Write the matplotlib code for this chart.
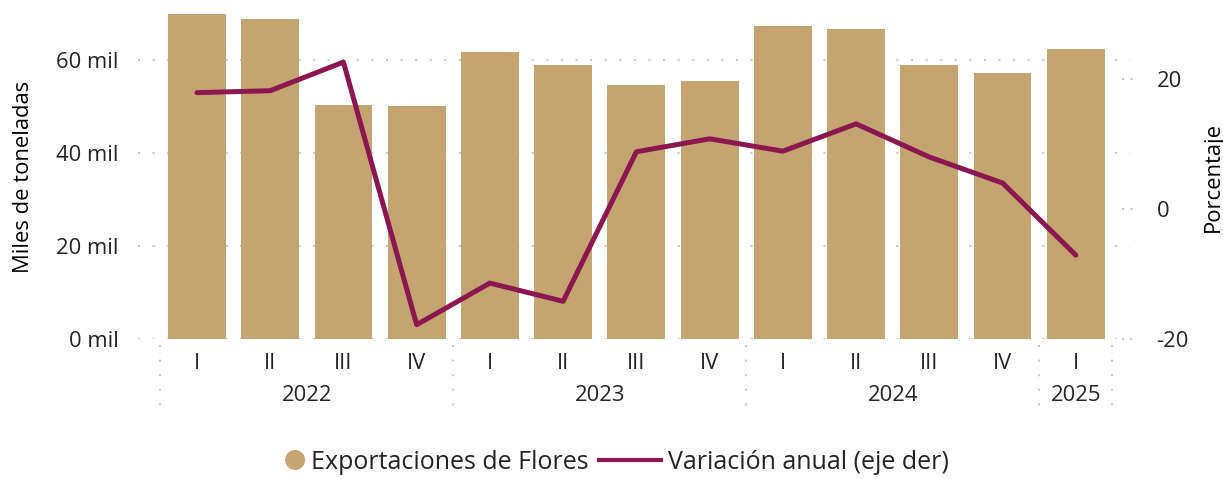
"""Exportaciones de flores por trimestre (barras) y variación anual (línea, eje der)."""

import matplotlib

matplotlib.use("Agg")
import matplotlib.pyplot as plt
from matplotlib.legend_handler import HandlerBase
from matplotlib.lines import Line2D
from matplotlib.patches import Circle
from matplotlib.transforms import blended_transform_factory

quarters = ["I", "II", "III", "IV", "I", "II", "III", "IV",
            "I", "II", "III", "IV", "I"]
years = ["2022", "2023", "2024", "2025"]
quarters_per_year = [4, 4, 4, 1]

# miles de toneladas
exports = [69.9, 69.0, 50.5, 50.1, 61.9, 59.1, 54.8, 55.5,
           67.4, 66.7, 59.1, 57.4, 62.4]
# variación anual, %
yoy_change = [17.9, 18.2, 22.6, -17.8, -11.4, -14.2, 8.8, 10.8,
              8.9, 13.1, 8.0, 4.0, -7.1]

BAR_COLOR = "#C4A572"
LINE_COLOR = "#8C1650"
GRID_COLOR = "#C8C8C8"
TEXT_COLOR = "#252423"

plt.rcParams["font.family"] = ["Open Sans", "DejaVu Sans"]
plt.rcParams["font.size"] = 15.8
plt.rcParams["text.color"] = TEXT_COLOR
plt.rcParams["axes.unicode_minus"] = False


class CircleHandler(HandlerBase):
    """Legend dot sitting right next to its label."""

    def create_artists(self, legend, orig_handle, xdescent, ydescent,
                       width, height, fontsize, trans):
        r = 7.2
        c = Circle((width - r, height / 2 - ydescent), r,
                   facecolor=orig_handle.get_markerfacecolor(),
                   edgecolor="none", transform=trans)
        return [c]


def main() -> None:
    fig = plt.figure(figsize=(12.23, 4.79), dpi=100)
    ax = fig.add_axes([138 / 1223, 1 - 339 / 479, (1130 - 138) / 1223, 325 / 479])
    ax2 = ax.twinx()

    xs = list(range(len(exports)))
    ax.bar(xs, exports, width=0.79, color=BAR_COLOR, zorder=2)
    ax2.plot(xs, yoy_change, color=LINE_COLOR, linewidth=3.6,
             solid_capstyle="round", solid_joinstyle="round", zorder=3)

    ax.set_xlim(-0.805, 12.74)
    ax.set_ylim(0, 70)
    ax2.set_ylim(-20, 30)

    ax.set_yticks([0, 20, 40, 60])
    ax.set_yticklabels([f"{v} mil" for v in [0, 20, 40, 60]])
    ax2.set_yticks([-20, 0, 20])
    for v in [0, 20, 40, 60]:
        ax.axhline(v, color=GRID_COLOR, linewidth=1.5,
                   linestyle=(0, (1, 6)), zorder=1)

    # small dotted ticks on the right axis
    tr2 = blended_transform_factory(ax2.transAxes, ax2.transData)
    for v in [-20, 0, 20]:
        ax2.plot([0.992, 1.006], [v, v], transform=tr2, color=GRID_COLOR,
                 linewidth=1.5, linestyle=(0, (1, 3)), clip_on=False, zorder=1)

    ax.set_xticks(xs)
    ax.set_xticklabels(quarters)
    ax.tick_params(axis="x", length=0, pad=10, labelcolor=TEXT_COLOR)
    ax.tick_params(axis="y", length=0, pad=14, labelcolor=TEXT_COLOR)
    ax2.tick_params(axis="y", length=0, pad=19, labelcolor=TEXT_COLOR)

    ax.set_ylabel("Miles de toneladas", va="center", ha="center")
    ax.yaxis.set_label_coords(-0.115, 0.5)
    ax2.set_ylabel("Porcentaje", rotation=90, va="center", ha="center")
    ax2.yaxis.set_label_coords(1.0837, 0.5)

    for a in (ax, ax2):
        for spine in a.spines.values():
            spine.set_visible(False)

    # year grouping under the quarter labels
    trx = blended_transform_factory(ax.transData, ax.transAxes)
    start = 0
    bounds = [start - 0.5]
    for year, n in zip(years, quarters_per_year):
        mid = start + (n - 1) / 2
        ax.text(mid, -0.175, year, transform=trx, ha="center", va="center")
        start += n
        bounds.append(start - 0.5)
    for b in bounds:
        ax.plot([b, b], [-0.018, -0.237], transform=trx, color=GRID_COLOR,
                linewidth=1.5, linestyle=(0, (1, 6)), clip_on=False)

    dot = Line2D([], [], marker="o", linestyle="none",
                 markerfacecolor=BAR_COLOR, markeredgecolor=BAR_COLOR)
    line = Line2D([], [], color=LINE_COLOR, linewidth=3)
    labels = ["Exportaciones de Flores", "Variación anual (eje der)"]
    fig.legend([dot, line], labels, loc="center", bbox_to_anchor=(0.487, 0.035),
               ncol=2, frameon=False, fontsize=18, handlelength=2.5,
               handletextpad=0.25, columnspacing=0.4,
               handler_map={dot: CircleHandler()})

    fig.savefig("out.png", dpi=100)


if __name__ == "__main__":
    main()
